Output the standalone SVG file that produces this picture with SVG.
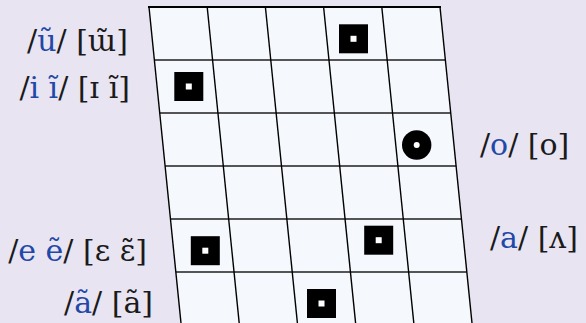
<svg xmlns="http://www.w3.org/2000/svg" width="586" height="323" viewBox="0 0 586 323">
<style>
.lbl{font-family:"DejaVu Serif","Liberation Serif",serif;font-size:30px;fill:#1a1a1a}
.b{fill:#1f48a8}
.h{stroke:#555;stroke-width:2}
.v{stroke:#000;stroke-width:1.4}
</style>
<defs>
<g id="sq"><rect x="-14.5" y="-14.5" width="29" height="29" fill="#000"/><rect x="-3" y="-3" width="6" height="6" fill="#fff"/></g>
</defs>
<rect width="586" height="323" fill="#e8e4f1"/>
<g id="grid">
<polygon points="149,7 440,7 472.6,330 181.7,330" fill="#f5f8fc"/>
<g id="connectors">
<line class="h" x1="154.4" y1="60" x2="445.4" y2="60"/>
<line class="h" x1="159.7" y1="113" x2="450.7" y2="113"/>
<line class="h" x1="165.1" y1="166" x2="456.1" y2="166"/>
<line class="h" x1="170.4" y1="219" x2="461.4" y2="219"/>
<line class="h" x1="175.8" y1="272" x2="466.8" y2="272"/>
<line class="v" x1="149" y1="7" x2="181.7" y2="330"/>
<line class="v" x1="207.2" y1="7" x2="239.9" y2="330"/>
<line class="v" x1="265.4" y1="7" x2="298.1" y2="330"/>
<line class="v" x1="323.6" y1="7" x2="356.3" y2="330"/>
<line class="v" x1="381.8" y1="7" x2="414.5" y2="330"/>
<line class="v" x1="440" y1="7" x2="472.7" y2="330"/>
<line x1="148" y1="7" x2="441" y2="7" stroke="#000" stroke-width="2"/>
</g>
</g>
<g id="m1"><use href="#sq" x="353.5" y="38.8"/></g>
<g id="m2"><use href="#sq" x="188.8" y="86.5"/></g>
<g id="m3"><circle cx="416.7" cy="145" r="14.7" fill="#000"/><circle cx="416.7" cy="145" r="3" fill="#fff"/></g>
<g id="m4"><use href="#sq" x="205.3" y="250.7"/></g>
<g id="m5"><use href="#sq" x="378.7" y="240.2"/></g>
<g id="m6"><use href="#sq" x="321.5" y="303.5"/></g>
<g id="l1"><text class="lbl" x="128" y="51" text-anchor="end">/<tspan class="b">ũ</tspan>/ [ɯ̃]</text></g>
<g id="l2"><text class="lbl" x="130" y="98" text-anchor="end">/<tspan class="b">i ĩ</tspan>/ [ɪ ĩ]</text></g>
<g id="l3"><text class="lbl" x="147" y="261" text-anchor="end">/<tspan class="b">e ẽ</tspan>/ [ɛ ɛ̃]</text></g>
<g id="l4"><text class="lbl" x="153" y="313" text-anchor="end">/<tspan class="b">ã</tspan>/ [ã]</text></g>
<g id="l5"><text class="lbl" x="480" y="155">/<tspan class="b">o</tspan>/ [ᴏ]</text></g>
<g id="l6"><text class="lbl" x="490" y="248">/<tspan class="b">a</tspan>/ [ʌ]</text></g>
</svg>
